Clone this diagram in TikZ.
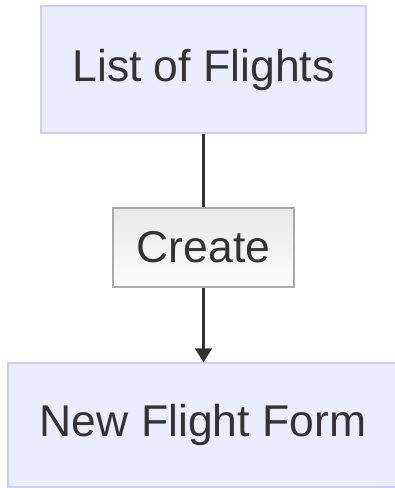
\documentclass[tikz,border=0pt]{standalone}
\usepackage{fontspec}
\setmainfont{Liberation Sans}
\usetikzlibrary{arrows.meta}
\definecolor{nodefill}{HTML}{ECECFF}
\definecolor{nodeline}{HTML}{CCCCFF}
\definecolor{labfill}{HTML}{E8E8E8}
\definecolor{labline}{HTML}{AAAAAA}
\definecolor{txt}{HTML}{333333}
\tikzset{
  statebox/.style={draw=nodeline, fill=nodefill, line width=1.5pt, inner sep=0pt,
    text=txt, font=\fontsize{44.5}{50}\selectfont},
  labelbox/.style={draw=labline, top color=labfill, bottom color=white!93!labfill, line width=1.5pt, inner sep=0pt,
    text=txt, font=\fontsize{44.5}{50}\selectfont},
  edge/.style={draw=txt, line width=2.4pt},
}
\begin{document}
\begin{tikzpicture}[x=1pt,y=-1pt]
\useasboundingbox (0,0) rectangle (395,488);
\clip (0,0) rectangle (395,488);
\node[statebox, minimum width=325pt, minimum height=127pt] (list) at (203.5,69.5) {List of Flights};
\node[statebox, minimum width=390pt, minimum height=124pt] (form) at (203,425) {New Flight Form};
\node[labelbox, minimum width=181pt, minimum height=79pt] (create) at (203.5,247.5) {Create};
\draw[edge] (list.south -| create.north) -- (create.north);
\draw[edge, -{Triangle[length=14pt,width=17pt]}] (create.south) -- (form.north -| create.south);
\end{tikzpicture}
\end{document}
